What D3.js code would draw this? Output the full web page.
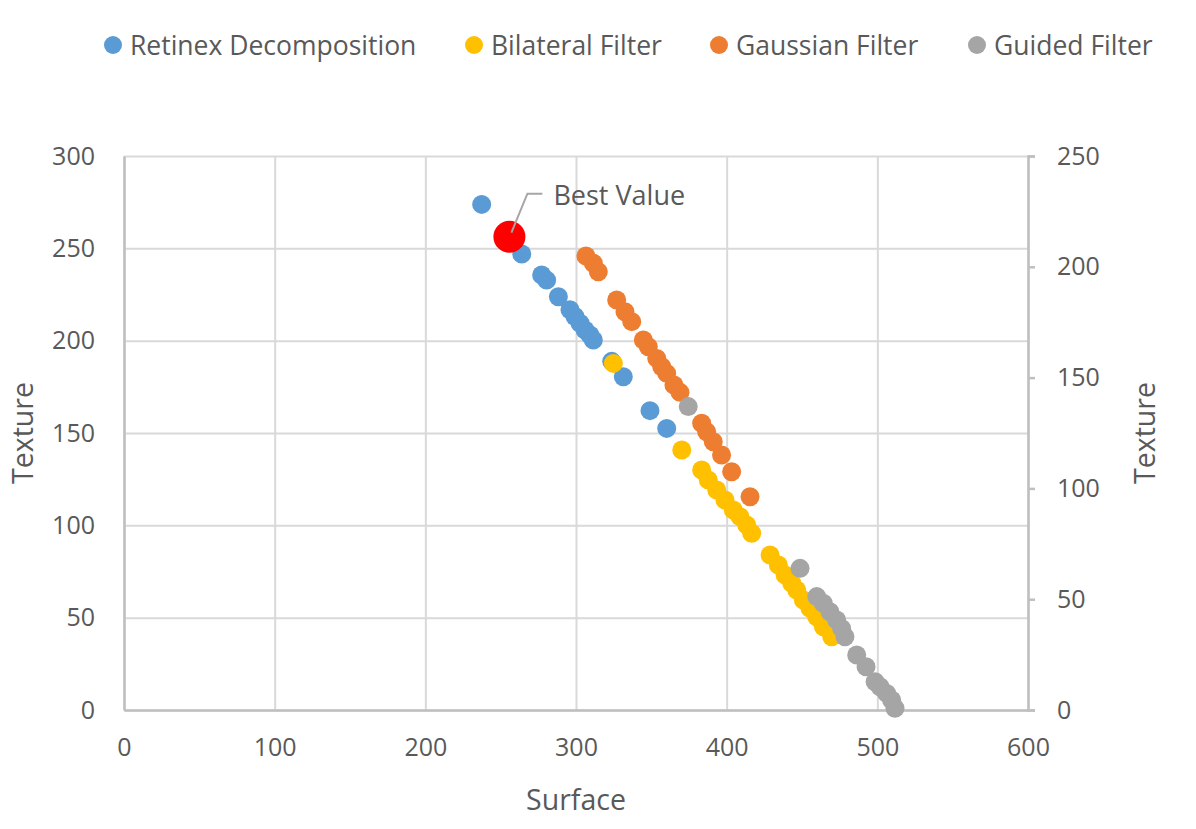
<!DOCTYPE html>
<html>
<head>
<meta charset="utf-8">
<script src="https://cdn.jsdelivr.net/npm/d3@7"></script>
<style>
  html, body { margin: 0; padding: 0; background: #fff; }
  svg text { font-family: "Open Sans", "Noto Sans", sans-serif; fill: #595959; }
  .grid line { stroke: #d9d9d9; stroke-width: 2; }
  .grid path { display: none; }
  .axis path, .axis line { stroke: #bfbfbf; stroke-width: 2.5; }
</style>
</head>
<body>
<div id="vis"></div>
<script>
// series names, legend order
var seriesNames = ["Retinex Decomposition", "Bilateral Filter", "Gaussian Filter", "Guided Filter"];
var seriesColors = ["#5b9bd5", "#ffc000", "#ed7d31", "#a5a5a5"];

// [surface, texture]
var retinex = [
    [237.4, 273.8], [264.0, 246.9], [277.2, 235.6], [280.5, 232.8], [288.3, 223.8],
    [296.0, 216.7], [299.3, 213.1], [302.7, 209.4], [306.0, 205.8], [309.3, 203.1],
    [311.5, 200.4], [323.7, 188.8], [331.4, 180.5], [349.1, 162.1], [360.2, 152.5]
];
var bilateral = [
    [324.8, 187.7], [370.2, 140.8], [383.4, 130.0], [387.8, 124.5], [393.4, 119.1],
    [398.9, 113.7], [404.4, 108.3], [408.8, 104.7], [413.3, 100.2], [416.6, 95.7],
    [428.8, 83.9], [434.3, 78.5], [438.8, 73.1], [443.2, 68.6], [446.5, 65.0],
    [450.9, 59.6], [455.3, 55.1], [459.7, 50.5], [464.2, 45.1], [469.7, 39.7]
];
var gaussian = [
    [306.6, 245.8], [311.5, 241.9], [314.8, 237.3], [327.0, 222.0], [332.5, 215.7],
    [337.0, 210.3], [344.7, 200.4], [348.0, 196.7], [353.6, 190.4], [356.9, 185.9],
    [360.2, 182.3], [365.0, 176.0], [369.0, 172.0], [383.4, 155.3], [386.7, 150.7],
    [391.1, 145.3], [396.6, 138.1], [403.3, 129.0], [415.5, 115.5]
];
var guided = [
    [374.5, 164.3], [448.7, 76.7], [459.8, 61.4], [464.1, 57.8], [468.5, 53.2],
    [473.0, 48.7], [476.3, 44.2], [478.5, 39.7], [486.3, 29.8], [492.5, 23.4],
    [498.5, 15.3], [501.8, 12.6], [506.2, 9.0], [509.5, 5.4], [511.7, 0.9]
];
var bestValue = [255.8, 256.3];

var xTicks = [0, 100, 200, 300, 400, 500, 600];
var yTicksLeft = [0, 50, 100, 150, 200, 250, 300];
var yTicksRight = [0, 50, 100, 150, 200, 250];

// drawing area
var svgW = 1196, svgH = 829;
var plotL = 124, plotR = 1028, plotT = 156, plotB = 710;
var markR = 9.5;

var svg = d3.select('#vis').append('svg').attr('width', svgW).attr('height', svgH);

var x = d3.scaleLinear().domain([0, 600]).range([plotL, plotR]);
var yL = d3.scaleLinear().domain([0, 300]).range([plotB, plotT]);
var yR = d3.scaleLinear().domain([0, 250]).range([plotB, plotT]);

// gridlines
svg.append('g').attr('class', 'grid')
    .attr('transform', 'translate(0,' + plotB + ')')
    .call(d3.axisBottom(x).tickValues(xTicks).tickSize(-(plotB - plotT)).tickFormat(''));
svg.append('g').attr('class', 'grid')
    .attr('transform', 'translate(' + plotL + ',0)')
    .call(d3.axisLeft(yL).tickValues(yTicksLeft).tickSize(-(plotR - plotL)).tickFormat(''));

// axes
svg.append('g').attr('class', 'axis')
    .attr('transform', 'translate(' + plotL + ',0)')
    .call(d3.axisLeft(yL).tickValues(yTicksLeft).tickSize(0).tickPadding(29));
svg.append('g').attr('class', 'axis')
    .attr('transform', 'translate(0,' + plotB + ')')
    .call(d3.axisBottom(x).tickValues(xTicks).tickSize(0).tickPadding(28));
svg.append('g').attr('class', 'axis')
    .attr('transform', 'translate(' + plotR + ',0)')
    .call(d3.axisRight(yR).tickValues(yTicksRight).tickSize(7).tickPadding(22));

svg.selectAll('.axis text').style('font-size', '25px').style('fill', '#595959');
svg.selectAll('.axis .domain').attr('stroke', '#bfbfbf');

// axis titles
svg.append('text').attr('x', (plotL + plotR) / 2).attr('y', 810)
    .attr('text-anchor', 'middle').style('font-size', '28.5px').text('Surface');
svg.append('text').attr('transform', 'translate(33,' + (plotT + plotB) / 2 + ') rotate(-90)')
    .attr('text-anchor', 'middle').style('font-size', '28.5px').text('Texture');
svg.append('text').attr('transform', 'translate(1155,' + (plotT + plotB) / 2 + ') rotate(-90)')
    .attr('text-anchor', 'middle').style('font-size', '28.5px').text('Texture');

// scatter points, drawn in Excel's series order
var allSeries = [retinex, bilateral, gaussian, guided];
allSeries.forEach(function (pts, i) {
    svg.append('g').selectAll('circle').data(pts).enter().append('circle')
        .attr('cx', function (d) { return x(d[0]); })
        .attr('cy', function (d) { return yL(d[1]); })
        .attr('r', markR)
        .style('fill', seriesColors[i]);
});

// best value marker + callout
var bx = x(bestValue[0]), by = yL(bestValue[1]);
svg.append('circle').attr('cx', bx).attr('cy', by).attr('r', 16).style('fill', '#ff0000');
svg.append('polyline')
    .attr('points', [[bx + 2, by - 4], [bx + 18, by - 43], [bx + 33, by - 43]].join(' '))
    .style('fill', 'none').style('stroke', '#a6a6a6').style('stroke-width', 2);
svg.append('text').attr('x', bx + 44).attr('y', by - 32).style('font-size', '27px').text('Best Value');

// legend
var legendX = [113, 474, 719, 977];
var legend = svg.append('g');
seriesNames.forEach(function (name, i) {
    legend.append('circle').attr('cx', legendX[i]).attr('cy', 45).attr('r', 9).style('fill', seriesColors[i]);
    legend.append('text').attr('x', legendX[i] + 17).attr('y', 55).style('font-size', '26.5px').text(name);
});
</script>
</body>
</html>
